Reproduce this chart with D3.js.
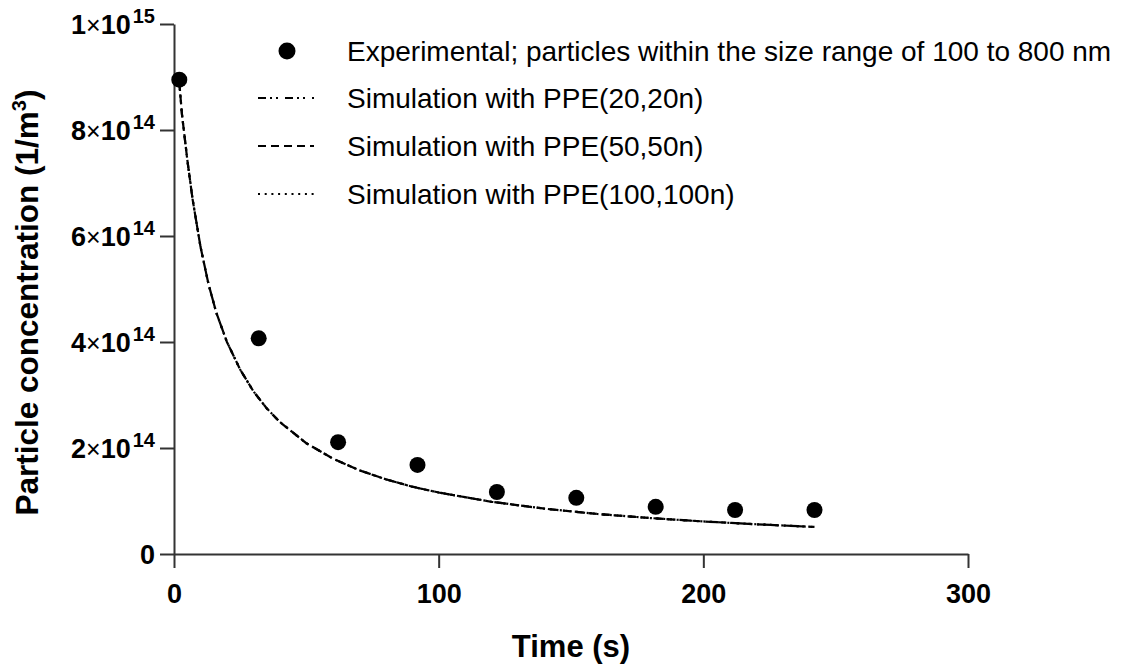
<!DOCTYPE html>
<html>
<head>
<meta charset="utf-8">
<script src="https://cdn.jsdelivr.net/npm/d3@7"></script>
<style>
  html, body { margin: 0; padding: 0; background: #fff; }
  svg { display: block; font-family: "Liberation Sans", Arial, Helvetica, sans-serif; }
</style>
</head>
<body>
<svg id="chart" width="1137" height="664"></svg>
<script>
// Measured particle concentration (1/m^3) vs time (s)
const expTime = [2, 32, 62, 92, 122, 152, 182, 212, 242];
const expConc = [8.95e14, 4.07e14, 2.11e14, 1.68e14, 1.17e14, 1.06e14, 0.89e14, 0.83e14, 0.83e14];

// Simulated concentration for three PPE settings (curves coincide)
const simTime = [2, 3, 5, 7, 10, 13, 16, 20, 25, 30, 35, 40, 50, 60, 70, 80, 90, 100, 120, 140, 160, 180, 200, 220, 242];
const simPPE20 = [8.9e14, 8.3e14, 7.45e14, 6.7e14, 5.8e14, 5.1e14, 4.55e14, 4.0e14, 3.48e14, 3.07e14, 2.75e14, 2.49e14, 2.09e14, 1.8e14, 1.58e14, 1.41e14, 1.27e14, 1.16e14, 0.985e14, 0.855e14, 0.755e14, 0.678e14, 0.614e14, 0.561e14, 0.51e14];
const simPPE50 = [8.9e14, 8.3e14, 7.45e14, 6.7e14, 5.8e14, 5.1e14, 4.55e14, 4.0e14, 3.48e14, 3.07e14, 2.75e14, 2.49e14, 2.09e14, 1.8e14, 1.58e14, 1.41e14, 1.27e14, 1.16e14, 0.985e14, 0.855e14, 0.755e14, 0.678e14, 0.614e14, 0.561e14, 0.51e14];
const simPPE100 = [8.9e14, 8.3e14, 7.45e14, 6.7e14, 5.8e14, 5.1e14, 4.55e14, 4.0e14, 3.48e14, 3.07e14, 2.75e14, 2.49e14, 2.09e14, 1.8e14, 1.58e14, 1.41e14, 1.27e14, 1.16e14, 0.985e14, 0.855e14, 0.755e14, 0.678e14, 0.614e14, 0.561e14, 0.51e14];

const xTicks = [0, 100, 200, 300];
const yTicks = [0, 2e14, 4e14, 6e14, 8e14, 1e15];

const legendLabels = [
  "Experimental; particles within the size range of 100 to 800 nm",
  "Simulation with PPE(20,20n)",
  "Simulation with PPE(50,50n)",
  "Simulation with PPE(100,100n)"
];
const dashPatterns = ["8,4,2,4,2,7", "8,5", "2,4.7"];

const svg = d3.select("#chart");
const axisColor = "#333";
const font = "'Liberation Sans', Arial, sans-serif";

const x = d3.scaleLinear().domain([0, 300]).range([174, 968]);
const y = d3.scaleLinear().domain([0, 1e15]).range([554, 24]);

// X axis
const gx = svg.append("g")
  .attr("transform", `translate(0,${y(0)})`)
  .call(d3.axisBottom(x).tickValues(xTicks).tickSize(14).tickSizeOuter(0).tickFormat(d3.format("d")));
gx.select(".domain").attr("stroke", axisColor).attr("stroke-width", 2);
gx.selectAll(".tick line").attr("stroke", axisColor).attr("stroke-width", 2);
gx.selectAll(".tick text")
  .attr("y", 0).attr("dy", 0)
  .attr("transform", "translate(0,49)")
  .attr("fill", "#000")
  .style("font-size", "27px").style("font-weight", "bold")
  .style("font-family", font);

// Y axis with scientific tick labels
const gy = svg.append("g")
  .attr("transform", `translate(${x(0)},0)`)
  .call(d3.axisLeft(y).tickValues(yTicks).tickSize(14).tickSizeOuter(0).tickFormat(""));
gy.select(".domain").attr("stroke", axisColor).attr("stroke-width", 2);
gy.selectAll(".tick line").attr("stroke", axisColor).attr("stroke-width", 2);
gy.selectAll(".tick").each(function(d) {
  const t = d3.select(this).append("text")
    .attr("x", -19).attr("y", 9)
    .attr("text-anchor", "end")
    .attr("fill", "#000")
    .style("font-family", font)
    .style("font-size", "27px").style("font-weight", "bold");
  if (d === 0) { t.text("0"); return; }
  const exp = Math.floor(Math.log10(d) + 1e-9);
  const mant = Math.round(d / Math.pow(10, exp));
  t.append("tspan").text(mant);
  t.append("tspan").text("\u00d7").style("font-weight", "normal").style("font-size", "25px");
  t.append("tspan").text("10");
  t.append("tspan").text(exp).attr("dy", -11).attr("dx", 2).style("font-size", "20px");
});

// Axis titles
svg.append("text")
  .attr("x", (x(0) + x(300)) / 2).attr("y", 657)
  .attr("text-anchor", "middle")
  .style("font-size", "31px").style("font-weight", "bold")
  .text("Time (s)");

const yt = svg.append("text")
  .attr("transform", `translate(38,${(92 + 513) / 2}) rotate(-90)`)
  .attr("text-anchor", "middle")
  .style("font-size", "31.5px").style("font-weight", "bold");
yt.append("tspan").text("Particle concentration (1/m");
yt.append("tspan").text("3").attr("dy", -12).style("font-size", "20px");
yt.append("tspan").text(")").attr("dy", 12);

// Simulation curves
const line = d3.line().x((d, i) => x(simTime[i])).y(d => y(d));
[simPPE20, simPPE50, simPPE100].forEach((s, k) => {
  svg.append("path")
    .datum(s)
    .attr("d", line)
    .attr("fill", "none")
    .attr("stroke", "#000")
    .attr("stroke-width", 2.2)
    .attr("stroke-dasharray", dashPatterns[k]);
});

// Experimental points
svg.append("g").selectAll("circle")
  .data(expConc)
  .join("circle")
  .attr("cx", (d, i) => x(expTime[i]))
  .attr("cy", d => y(d))
  .attr("r", 8)
  .attr("fill", "#000");

// Legend
const lg = svg.append("g");
const rowY = [51, 98, 146, 194];
lg.append("circle").attr("cx", 287).attr("cy", rowY[0]).attr("r", 8.5).attr("fill", "#000");
dashPatterns.forEach((p, k) => {
  lg.append("line")
    .attr("x1", 258).attr("x2", 314)
    .attr("y1", rowY[k + 1]).attr("y2", rowY[k + 1])
    .attr("stroke", "#000").attr("stroke-width", 2)
    .attr("stroke-dasharray", p);
});
legendLabels.forEach((lab, k) => {
  lg.append("text")
    .attr("x", 347).attr("y", rowY[k] + 10)
    .style("font-size", "28px")
    .attr("fill", "#000")
    .text(lab);
});
</script>
</body>
</html>
